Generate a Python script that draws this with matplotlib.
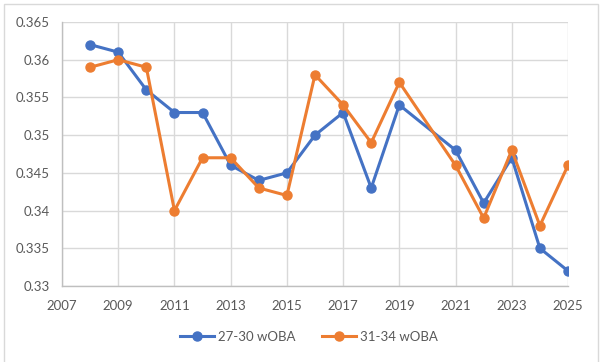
import matplotlib
matplotlib.use("Agg")
import matplotlib.pyplot as plt
from matplotlib.patches import Rectangle

years = [2008, 2009, 2010, 2011, 2012, 2013, 2014, 2015, 2016, 2017, 2018, 2019,
         2021, 2022, 2023, 2024, 2025]
woba_27_30 = [0.362, 0.361, 0.356, 0.353, 0.353, 0.346, 0.344, 0.345, 0.350, 0.353,
              0.343, 0.354, 0.348, 0.341, 0.347, 0.335, 0.332]
woba_31_34 = [0.359, 0.360, 0.359, 0.340, 0.347, 0.347, 0.343, 0.342, 0.358, 0.354,
              0.349, 0.357, 0.346, 0.339, 0.348, 0.338, 0.346]
series_names = ["27-30 wOBA", "31-34 wOBA"]
x_ticks = list(range(2007, 2026, 2))
y_ticks = [0.33, 0.335, 0.34, 0.345, 0.35, 0.355, 0.36, 0.365]
y_labels = ["0.33", "0.335", "0.34", "0.345", "0.35", "0.355", "0.36", "0.365"]

plt.rcParams['font.family'] = ['Lato', 'DejaVu Sans']

fig = plt.figure(figsize=(6.02, 3.62), dpi=100)
fig.patch.set_facecolor("white")

# chart area border
fig.patches.append(Rectangle((4/602, -0.01), 594/602, 1 - 4/362 + 0.01,
                             transform=fig.transFigure, fill=False,
                             edgecolor="#D9D9D9", linewidth=1.0))

ax = fig.add_axes([62/602, 76/362, 506/602, 264/362])
blue = "#4472C4"
orange = "#ED7D31"
ax.plot(years, woba_27_30, color=blue, linewidth=2.2, marker="o", markersize=6.5,
        label=series_names[0], zorder=3)
ax.plot(years, woba_31_34, color=orange, linewidth=2.2, marker="o", markersize=6.5,
        label=series_names[1], zorder=4)

ax.set_xlim(2007, 2025)
ax.set_ylim(0.33, 0.365)
ax.set_xticks(x_ticks)
ax.set_yticks(y_ticks)
ax.set_yticklabels(y_labels)
ax.grid(True, color="#D9D9D9", linewidth=1.0)
ax.set_axisbelow(True)
for s in ["top", "right"]:
    ax.spines[s].set_visible(False)
for s in ["left", "bottom"]:
    ax.spines[s].set_color("#BFBFBF")
    ax.spines[s].set_linewidth(1.0)
ax.tick_params(axis="y", length=0, labelsize=9.5, colors="#595959", pad=9)
ax.tick_params(axis="x", length=0, labelsize=9.5, colors="#595959", pad=10)

fig.legend(loc="center", bbox_to_anchor=(309/602, 25/362), ncol=2, frameon=False,
           fontsize=9.5, labelcolor="#595959", handlelength=2.6, columnspacing=2.0,
           handletextpad=0.3)

fig.savefig("out.png", dpi=100)
